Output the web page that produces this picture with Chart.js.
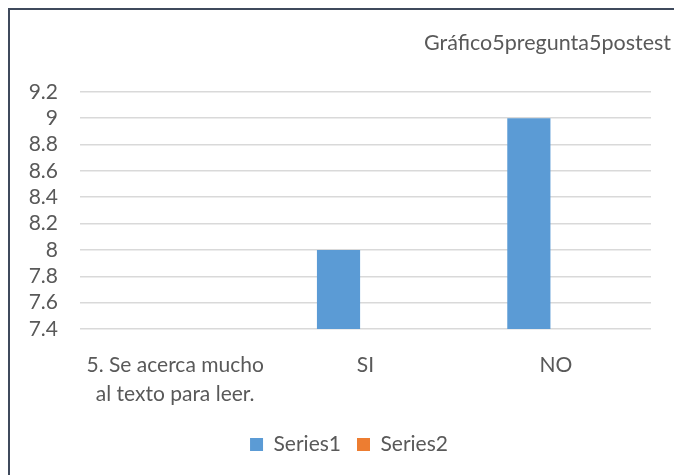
<!DOCTYPE html>
<html>
<head>
<meta charset="utf-8">
<script src="https://cdn.jsdelivr.net/npm/chart.js@4.4.1/dist/chart.umd.min.js"></script>
<style>
  html, body { margin: 0; padding: 0; width: 674px; height: 475px; overflow: hidden; background: #fff; }
  #frame { position: absolute; left: 8px; top: 8px; width: 690px; height: 490px; border: 2px solid #3f4a5c; box-sizing: border-box; background: #fff; }
  #wrap { position: absolute; left: 10px; top: 10px; width: 680px; height: 470px; }
</style>
</head>
<body>
<div id="frame"></div>
<div id="wrap"><canvas id="c" width="680" height="470"></canvas></div>
<script>
const categories = [["5. Se acerca mucho", "al texto para leer."], "SI", "NO"];
const series1 = [null, 8, 9];
const series2 = [null, null, null];
const seriesNames = ["Series1", "Series2"];
const titleText = "Gráfico5pregunta5postest";
const yMin = 7.4, yMax = 9.2, yStep = 0.2;

const textColor = "#595959";
const fontFamily = "Lato, 'Open Sans', sans-serif";

new Chart(document.getElementById("c"), {
  type: "bar",
  data: {
    labels: categories,
    datasets: [
      { label: seriesNames[0], data: series1, backgroundColor: "#5b9bd5", categoryPercentage: 0.567, barPercentage: 0.8 },
      { label: seriesNames[1], data: series2, backgroundColor: "#ed7d31", categoryPercentage: 0.567, barPercentage: 0.8 }
    ]
  },
  options: {
    responsive: false,
    animation: false,
    layout: { padding: { left: 17, right: 19, top: 0, bottom: 15 } },
    plugins: {
      title: {
        display: true, text: titleText, align: "end", color: textColor,
        font: { family: fontFamily, size: 21.5, weight: "normal", lineHeight: 1.2 },
        padding: { top: 20, bottom: 36 }
      },
      legend: {
        position: "bottom",
        labels: { color: textColor, font: { family: fontFamily, size: 21 }, boxWidth: 13, boxHeight: 13, padding: 16 }
      },
      tooltip: { enabled: false }
    },
    scales: {
      x: {
        afterFit: (s) => { s.height = 89; },
        grid: { display: false },
        border: { display: false },
        ticks: { color: textColor, font: { family: fontFamily, size: 21, lineHeight: 1.38 }, padding: 14, maxRotation: 0, autoSkip: false }
      },
      y: {
        min: yMin, max: yMax,
        afterFit: (s) => { s.width = 53; },
        grid: { color: "#d9d9d9", lineWidth: 1.5, drawTicks: false },
        border: { display: false },
        ticks: { stepSize: yStep, autoSkip: false, color: textColor, font: { family: fontFamily, size: 21 }, padding: 22,
          callback: (v) => Math.round(v * 10) / 10 }
      },
      yR: {
        position: "right",
        afterFit: (s) => { s.width = 20; },
        grid: { display: false, drawTicks: false },
        border: { display: false },
        ticks: { display: false }
      }
    }
  }
});
</script>
</body>
</html>
